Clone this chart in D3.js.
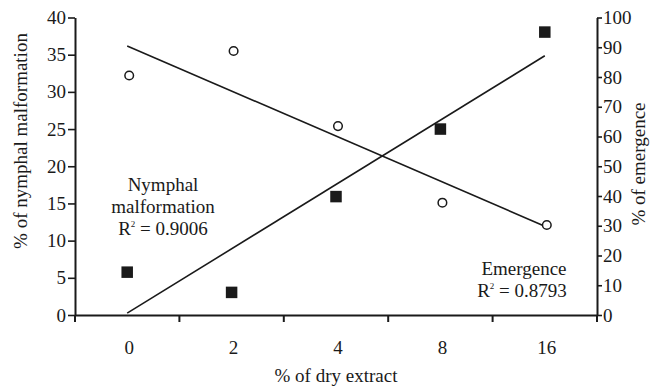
<!DOCTYPE html>
<html>
<head>
<meta charset="utf-8">
<script src="https://cdn.jsdelivr.net/npm/d3@7"></script>
<style>
  html, body { margin: 0; padding: 0; background: #fff; }
  svg { display: block; }
  text { font-family: "Liberation Serif", "Times New Roman", serif; fill: #1a1a1a; }
</style>
</head>
<body>
<svg id="chart" width="652" height="391"></svg>
<script>
const categories = ["0", "2", "4", "8", "16"];
const nymphalValues = [32.2, 35.5, 25.4, 15.1, 12.1];
const emergenceValues = [14.4, 7.6, 39.8, 62.5, 95.1];
const leftTicks = [0, 5, 10, 15, 20, 25, 30, 35, 40];
const rightTicks = [0, 10, 20, 30, 40, 50, 60, 70, 80, 90, 100];
const xTitle = "% of dry extract";
const leftTitle = "% of nymphal malformation";
const rightTitle = "% of emergence";
const nymphalLabel = ["Nymphal", "malformation", "0.9006"];
const emergenceLabel = ["Emergence", "0.8793"];

const svg = d3.select("#chart");
const L = 75, R = 597, T = 17.5, B = 315;
const ink = "#1a1a1a";

const x = d3.scaleBand().domain(categories).range([L, R]);
const yL = d3.scaleLinear().domain([0, 40]).range([B, T]);
const yR = d3.scaleLinear().domain([0, 100]).range([B, T]);
const cx = d => x(d) + x.bandwidth() / 2;

// linear trend on category index
function trend(vals) {
  const n = vals.length, xs = vals.map((_, i) => i);
  const mx = d3.mean(xs), my = d3.mean(vals);
  const sxy = d3.sum(xs, (xi, i) => (xi - mx) * (vals[i] - my));
  const sxx = d3.sum(xs, xi => (xi - mx) ** 2);
  const b = sxy / sxx, a = my - b * mx;
  return [[0, a], [n - 1, a + b * (n - 1)]];
}

const gL = svg.append("g").attr("transform", `translate(${L},0)`)
  .call(d3.axisLeft(yL).tickValues(leftTicks).tickSize(7).tickSizeOuter(0).tickPadding(2));
const gR = svg.append("g").attr("transform", `translate(${R},0)`)
  .call(d3.axisRight(yR).tickValues(rightTicks).tickSize(5).tickSizeOuter(0).tickPadding(1));
const gB = svg.append("g").attr("transform", `translate(0,${B})`)
  .call(d3.axisBottom(x).tickSize(0).tickSizeOuter(0).tickPadding(26));
gB.selectAll(".tick text").attr("dx", 2);
const bounds = categories.map(c => x(c)).concat([R]);
gB.selectAll("line.bt").data(bounds).join("line").attr("class", "bt")
  .attr("x1", d => d).attr("x2", d => d).attr("y1", 0).attr("y2", 7)
  .attr("stroke", ink).attr("stroke-width", 2);

[gL, gR, gB].forEach(g => {
  g.attr("font-family", null);
  g.select(".domain").attr("stroke", ink).attr("stroke-width", 2);
  g.selectAll(".tick line").attr("stroke", ink).attr("stroke-width", 1.6);
  g.selectAll(".tick text").style("font-size", "19px").attr("fill", ink)
   .style("font-family", "'Liberation Serif', serif");
});

const tN = trend(nymphalValues);
svg.append("line")
  .attr("x1", cx(categories[tN[0][0]])).attr("y1", yL(tN[0][1]))
  .attr("x2", cx(categories[tN[1][0]])).attr("y2", yL(tN[1][1]))
  .attr("stroke", ink).attr("stroke-width", 1.6);
const tE = trend(emergenceValues);
svg.append("line")
  .attr("x1", cx(categories[tE[0][0]])).attr("y1", yR(tE[0][1]))
  .attr("x2", cx(categories[tE[1][0]])).attr("y2", yR(tE[1][1]))
  .attr("stroke", ink).attr("stroke-width", 1.6);

svg.selectAll("circle.n").data(nymphalValues).join("circle").attr("class", "n")
  .attr("cx", (d, i) => cx(categories[i]) + 2).attr("cy", d => yL(d)).attr("r", 4.3)
  .attr("fill", "#fff").attr("stroke", ink).attr("stroke-width", 1.5);
const s = 11.5;
svg.selectAll("rect.e").data(emergenceValues).join("rect").attr("class", "e")
  .attr("x", (d, i) => cx(categories[i]) - s / 2).attr("y", d => yR(d) - s / 2)
  .attr("width", s).attr("height", s).attr("fill", ink);

svg.append("text").attr("text-anchor", "middle").style("font-size", "19px")
  .attr("x", (L + R) / 2).attr("y", 382).text(xTitle);
svg.append("text").attr("text-anchor", "middle").style("font-size", "19px")
  .attr("transform", "translate(27,141) rotate(-90)").text(leftTitle);
svg.append("text").attr("text-anchor", "middle").style("font-size", "19px")
  .attr("transform", "translate(645,164) rotate(-90)").text(rightTitle);

function rsq(g, xPos, yPos, val) {
  const t = g.append("text").attr("text-anchor", "middle").style("font-size", "19px")
    .attr("x", xPos).attr("y", yPos);
  t.append("tspan").text("R");
  t.append("tspan").attr("dy", -8).style("font-size", "9px").text("2");
  t.append("tspan").attr("dy", 8).text(" = " + val);
}
svg.append("text").attr("text-anchor", "middle").style("font-size", "19px")
  .attr("x", 163).attr("y", 191).text(nymphalLabel[0]);
svg.append("text").attr("text-anchor", "middle").style("font-size", "19px")
  .attr("x", 163).attr("y", 213).text(nymphalLabel[1]);
rsq(svg, 163, 235, nymphalLabel[2]);
svg.append("text").attr("text-anchor", "middle").style("font-size", "19px")
  .attr("x", 524).attr("y", 275).text(emergenceLabel[0]);
rsq(svg, 522, 297, emergenceLabel[1]);
</script>
</body>
</html>
